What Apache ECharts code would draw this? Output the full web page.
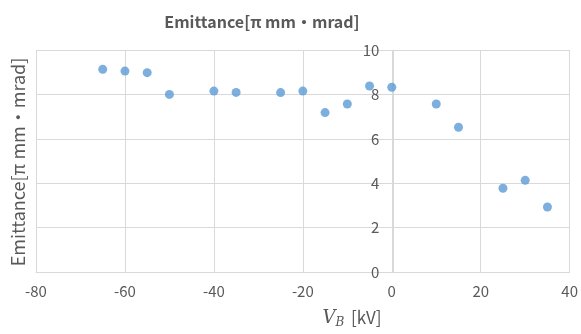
<!DOCTYPE html>
<html><head><meta charset="utf-8">
<script src="https://cdn.jsdelivr.net/npm/echarts@6/dist/echarts.min.js"></script>
<style>html,body{margin:0;padding:0;background:#fff}#c{width:581px;height:334px}</style>
</head><body><div id="c"></div>
<script>
const xValues = [-65, -60, -55, -50, -40, -35, -25, -20, -15, -10, -5, 0, 10, 15, 25, 30, 35];
const emittance = [9.13, 9.05, 8.98, 8.0, 8.15, 8.09, 8.08, 8.15, 7.18, 7.57, 8.38, 8.32, 7.57, 6.52, 3.77, 4.13, 2.93];
const xTicks = [-80, -60, -40, -20, 0, 20, 40];
const yTicks = [0, 2, 4, 6, 8, 10];
const titleText = 'Emittance[π mm・mrad]';

const W = 581, gridLeft = 36, gridRight = 9;
const gridWidth = W - gridLeft - gridRight;
const xMin = xTicks[0], xMax = xTicks[xTicks.length - 1];
const yAxisOffset = -((0 - xMin) / (xMax - xMin)) * gridWidth;

const chart = echarts.init(document.getElementById('c'), null, {renderer: 'canvas'});
const font = '"Noto Sans CJK JP", Roboto, sans-serif';
chart.setOption({
  animation: false,
  backgroundColor: '#fff',
  grid: {left: gridLeft, right: gridRight, top: 50, bottom: 62, containLabel: false},
  xAxis: {
    type: 'value', min: xMin, max: xMax, interval: 20,
    axisLine: {show: true, onZero: false, lineStyle: {color: '#d9d9d9'}},
    axisTick: {show: false},
    splitLine: {show: true, lineStyle: {color: '#d9d9d9'}},
    axisLabel: {color: '#595959', fontSize: 15, fontFamily: font, margin: 12}
  },
  yAxis: {
    type: 'value', min: yTicks[0], max: yTicks[yTicks.length - 1], interval: 2,
    position: 'left', offset: yAxisOffset,
    axisLine: {show: true, onZero: false, lineStyle: {color: '#d9d9d9'}},
    axisTick: {show: false},
    splitLine: {show: true, lineStyle: {color: '#d9d9d9'}},
    axisLabel: {color: '#595959', fontSize: 15, fontFamily: font, margin: 14}
  },
  graphic: [
    {type: 'text', x: 262, y: 22, style: {text: titleText, align: 'center', verticalAlign: 'middle', fill: '#595959', font: 'bold 16px ' + font}},
    {type: 'text', rotation: Math.PI / 2, x: 18, y: 162, style: {text: titleText, align: 'center', verticalAlign: 'middle', fill: '#595959', font: '18px ' + font}},
    {type: 'text', x: 352, y: 318, style: {
      text: '{v|V}{b|B}  {u|[kV]}', align: 'center', verticalAlign: 'middle',
      rich: {
        v: {fontFamily: '"DejaVu Serif", serif', fontStyle: 'italic', fontSize: 18, fill: '#595959', color: '#595959'},
        b: {fontFamily: '"DejaVu Serif", serif', fontStyle: 'italic', fontSize: 12, fill: '#595959', color: '#595959', padding: [10, 0, 0, 0]},
        u: {fontFamily: font, fontSize: 17, fill: '#595959', color: '#595959'}
      }
    }}
  ],
  series: [{
    type: 'scatter',
    data: xValues.map((x, i) => [x, emittance[i]]),
    symbolSize: 9,
    itemStyle: {color: '#5B9BD5'}
  }]
});
</script></body></html>
